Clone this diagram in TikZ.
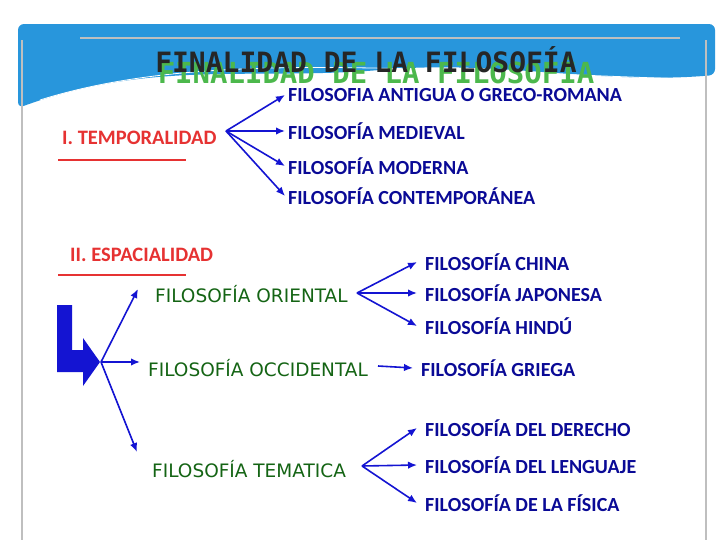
\documentclass[tikz,border=0pt]{standalone}
\usepackage{fontspec}
\setmainfont{Carlito}
\newfontfamily\titlefont{DejaVu Sans Mono}
\newfontfamily\greenfont{DejaVu Sans}
\usetikzlibrary{arrows.meta}
\definecolor{darkblue}{RGB}{10,10,150}
\definecolor{arrowblue}{RGB}{20,20,210}
\definecolor{redline}{RGB}{230,50,50}
\definecolor{darkgreen}{RGB}{20,100,20}
\definecolor{skyblue}{RGB}{40,150,220}
\begin{document}
\begin{tikzpicture}[x=1pt,y=-1pt]
\tikzset{ >={Latex[length=9pt,width=7.5pt]},
  blue item/.style={anchor=west, text=darkblue, font=\bfseries\fontsize{20}{20}\selectfont, inner sep=0pt},
  red item/.style={anchor=west, text=redline, font=\bfseries\fontsize{20.5}{20.5}\selectfont, inner sep=0pt},
  green item/.style={anchor=west, text=darkgreen, font=\greenfont\fontsize{18.5}{18.5}\selectfont, inner sep=0pt},
  link/.style={->, arrowblue, line width=1.6pt},
}
\useasboundingbox (0,0) rectangle (728,546);
\fill[white] (0,0) rectangle (728,546);

% banner
\fill[skyblue, rounded corners=6pt] (18,24) -- (715,24) -- (715,75)
  .. controls (600,85) and (500,60) .. (380,70)
  .. controls (250,80) and (150,60) .. (18,108) -- cycle;
\draw[white, thick] (40,100) .. controls (200,50) and (400,70) .. (715,80);
\draw[lightgray, line width=1.2pt] (22,40) -- (22,540) (706,40) -- (706,540) (80,38) -- (680,38);

% title
\node[font=\titlefont\bfseries\fontsize{29}{29}\selectfont, text=green!60!black!70] at (376,70) {FINALIDAD DE LA FILOSOFÍA};
\node[font=\titlefont\bfseries\fontsize{28}{28}\selectfont, text=black!85] (title) at (366,60) {FINALIDAD DE LA FILOSOFÍA};

% temporalidad
\node[red item] (temp) at (62,138) {I. TEMPORALIDAD};
\draw[redline, line width=2.5pt] (58,160) -- (186,160);
\coordinate (tsrc) at (226,131);
\node[blue item] (t1) at (288,95) {FILOSOFIA ANTIGUA O GRECO-ROMANA};
\node[blue item] (t2) at (288,131) {FILOSOFÍA MEDIEVAL};
\node[blue item] (t3) at (288,166) {FILOSOFÍA MODERNA};
\node[blue item] (t4) at (288,196) {FILOSOFÍA CONTEMPORÁNEA};
\foreach \n in {t1,t2,t3,t4}
  \draw[link] (tsrc) -- ([xshift=-3pt]\n.west);

% espacialidad
\node[red item] (esp) at (70,255) {II. ESPACIALIDAD};
\draw[redline, line width=2.5pt] (58,275) -- (186,275);
\fill[arrowblue] (57,305) -- (72,305) -- (72,350) -- (83,350) -- (83,338)
  -- (100,362) -- (83,386) -- (83,372) -- (57,372) -- cycle;
\coordinate (esrc) at (101,362);
\node[green item] (ori) at (155,294) {FILOSOFÍA ORIENTAL};
\node[green item] (occ) at (148,368) {FILOSOFÍA OCCIDENTAL};
\node[green item] (tem) at (152,469) {FILOSOFÍA TEMATICA};
\draw[link] (esrc) -- (138,289);
\draw[link] (esrc) -- (140,362);
\draw[link] (esrc) -- (137,452);

\coordinate (osrc) at (357,293);
\node[blue item] (o1) at (425,262) {FILOSOFÍA CHINA};
\node[blue item] (o2) at (425,293) {FILOSOFÍA JAPONESA};
\node[blue item] (o3) at (425,326) {FILOSOFÍA HINDÚ};
\foreach \n in {o1,o2,o3}
  \draw[link] (osrc) -- ([xshift=-8pt]\n.west);

\coordinate (csrc) at (378,366);
\node[blue item] (c1) at (421,368) {FILOSOFÍA GRIEGA};
\draw[link] (csrc) -- ([xshift=-8pt]c1.west);

\coordinate (msrc) at (362,466);
\node[blue item] (m1) at (425,428) {FILOSOFÍA DEL DERECHO};
\node[blue item] (m2) at (425,465) {FILOSOFÍA DEL LENGUAJE};
\node[blue item] (m3) at (425,503) {FILOSOFÍA DE LA FÍSICA};
\foreach \n in {m1,m2,m3}
  \draw[link] (msrc) -- ([xshift=-8pt]\n.west);
\end{tikzpicture}
\end{document}
